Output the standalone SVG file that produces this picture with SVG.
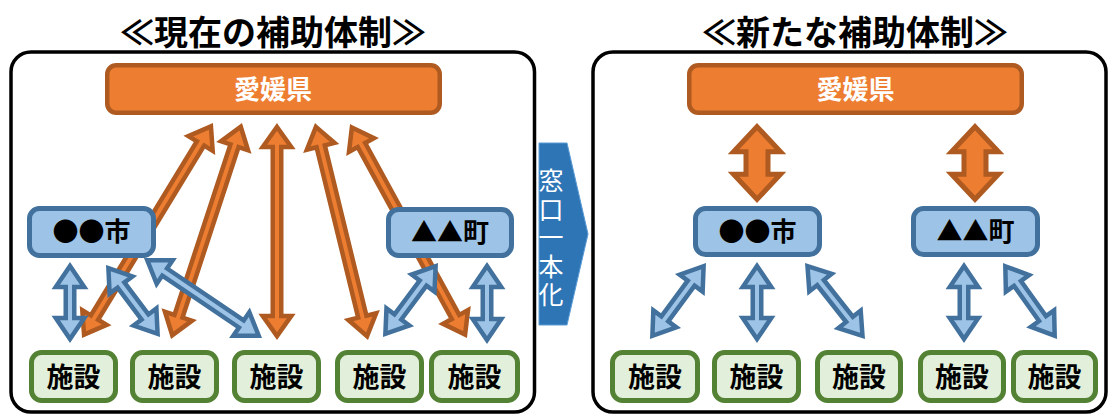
<svg xmlns="http://www.w3.org/2000/svg" width="1110" height="415" viewBox="0 0 1110 415">
<style>
text{font-family:"Noto Sans CJK JP","Noto Sans",sans-serif;text-anchor:middle}
.title{font-size:34px;font-weight:bold;fill:#000}
.frame{fill:#fff;stroke:#000;stroke-width:3.5}
.pref rect{fill:#ED7D31;stroke:#AE5A21;stroke-width:4.5}
.pref text{fill:#fff;font-size:26px;font-weight:bold}
.muni rect{fill:#9DC3E6;stroke:#41719C;stroke-width:5}
.muni text{fill:#000;font-size:26px;font-weight:bold}
.fac rect{fill:#E2EFDA;stroke:#548235;stroke-width:5}
.fac text{fill:#000;font-size:27px;font-weight:bold}
.oa{fill:#ED7D31;stroke:#AE5A21;stroke-width:4.5}
.ba{fill:#9DC3E6;stroke:#41719C;stroke-width:4.5}
.ob{fill:#ED7D31;stroke:#AE5A21;stroke-width:5}
.chev{fill:#2E75B6;stroke:#5B9BD5;stroke-width:1}
.chevt{fill:#fff;font-size:25px;text-anchor:start;writing-mode:vertical-rl;letter-spacing:3.5px}
</style>
<defs>
<polygon id="bigArrow" points="0,-36.3 23.5,-11.3 11,-11.3 11,11.3 23.5,11.3 0,36.3 -23.5,11.3 -11,11.3 -11,-11.3 -23.5,-11.3"/>
</defs>

<text class="title" x="273" y="45">≪現在の補助体制≫</text>
<text class="title" x="855" y="45">≪新たな補助体制≫</text>

<rect class="frame" x="11" y="52" width="523.5" height="360" rx="20"/>
<rect class="frame" x="593" y="52" width="513" height="360" rx="20"/>

<g id="madoguchi">
<polygon class="chev" points="539,143 567,143 588,234 567,325 539,325"/>
<text class="chevt" x="551" y="168">窓口一本化</text>
</g>

<g id="connectors">
<polygon class="oa" transform="translate(147.5,230.5) rotate(121.36)" points="-121.9,0 -101.9,-14.25 -101.9,-4.25 101.9,-4.25 101.9,-14.25 121.9,0 101.9,14.25 101.9,4.25 -101.9,4.25 -101.9,14.25"/>
<polygon class="oa" transform="translate(206.5,231) rotate(108.2)" points="-109.7,0 -89.7,-14.25 -89.7,-4.25 89.7,-4.25 89.7,-14.25 109.7,0 89.7,14.25 89.7,4.25 -89.7,4.25 -89.7,14.25"/>
<polygon class="oa" transform="translate(277,231.5) rotate(90)" points="-104.5,0 -84.5,-14.25 -84.5,-4.25 84.5,-4.25 84.5,-14.25 104.5,0 84.5,14.25 84.5,4.25 -84.5,4.25 -84.5,14.25"/>
<polygon class="oa" transform="translate(341.5,231.5) rotate(76.27)" points="-107.7,0 -87.7,-14.25 -87.7,-4.25 87.7,-4.25 87.7,-14.25 107.7,0 87.7,14.25 87.7,4.25 -87.7,4.25 -87.7,14.25"/>
<polygon class="oa" transform="translate(408.5,231) rotate(61.33)" points="-118,0 -98,-14.25 -98,-4.25 98,-4.25 98,-14.25 118,0 98,14.25 98,4.25 -98,4.25 -98,14.25"/>

<polygon class="ba" transform="translate(70,302.5) rotate(90)" points="-36.5,0 -15.5,-14.25 -15.5,-4.25 15.5,-4.25 15.5,-14.25 36.5,0 15.5,14.25 15.5,4.25 -15.5,4.25 -15.5,14.25"/>
<polygon class="ba" transform="translate(133,301) rotate(53.13)" points="-41,0 -20,-14.25 -20,-4.25 20,-4.25 20,-14.25 41,0 20,14.25 20,4.25 -20,4.25 -20,14.25"/>
<polygon class="ba" transform="translate(203,298) rotate(34.13)" points="-67.3,0 -46.3,-14.25 -46.3,-4.25 46.3,-4.25 46.3,-14.25 67.3,0 46.3,14.25 46.3,4.25 -46.3,4.25 -46.3,14.25"/>
<polygon class="ba" transform="translate(410.5,300) rotate(126.62)" points="-42.1,0 -21.1,-14.25 -21.1,-4.25 21.1,-4.25 21.1,-14.25 42.1,0 21.1,14.25 21.1,4.25 -21.1,4.25 -21.1,14.25"/>
<polygon class="ba" transform="translate(487,303) rotate(90)" points="-37,0 -16,-14.25 -16,-4.25 16,-4.25 16,-14.25 37,0 16,14.25 16,4.25 -16,4.25 -16,14.25"/>

<use href="#bigArrow" class="ob" x="757" y="163"/>
<use href="#bigArrow" class="ob" x="975" y="163"/>

<polygon class="ba" transform="translate(678,301) rotate(126.38)" points="-43.2,0 -22.2,-14.25 -22.2,-4.25 22.2,-4.25 22.2,-14.25 43.2,0 22.2,14.25 22.2,4.25 -22.2,4.25 -22.2,14.25"/>
<polygon class="ba" transform="translate(757,302.5) rotate(90)" points="-36.5,0 -15.5,-14.25 -15.5,-4.25 15.5,-4.25 15.5,-14.25 36.5,0 15.5,14.25 15.5,4.25 -15.5,4.25 -15.5,14.25"/>
<polygon class="ba" transform="translate(835,301) rotate(51.71)" points="-44.4,0 -23.4,-14.25 -23.4,-4.25 23.4,-4.25 23.4,-14.25 44.4,0 23.4,14.25 23.4,4.25 -23.4,4.25 -23.4,14.25"/>
<polygon class="ba" transform="translate(964,302.5) rotate(90)" points="-36.5,0 -15.5,-14.25 -15.5,-4.25 15.5,-4.25 15.5,-14.25 36.5,0 15.5,14.25 15.5,4.25 -15.5,4.25 -15.5,14.25"/>
<polygon class="ba" transform="translate(1030,301) rotate(54.6)" points="-42.6,0 -21.6,-14.25 -21.6,-4.25 21.6,-4.25 21.6,-14.25 42.6,0 21.6,14.25 21.6,4.25 -21.6,4.25 -21.6,14.25"/>
</g>

<g id="pref-left" class="pref"><rect x="107.25" y="65.25" width="332.5" height="47.5" rx="9"/><text x="273" y="98.5">愛媛県</text></g>
<g id="pref-right" class="pref"><rect x="689.25" y="65.25" width="332.5" height="47.5" rx="9"/><text x="855.5" y="98.5">愛媛県</text></g>

<g id="city-left" class="muni"><rect x="29.5" y="208.5" width="124" height="47" rx="10"/><text x="91.5" y="241">●●市</text></g>
<g id="town-left" class="muni"><rect x="388.5" y="209.5" width="123" height="46" rx="10"/><text x="450" y="241.5">▲▲町</text></g>
<g id="city-right" class="muni"><rect x="695.5" y="208.5" width="124" height="46" rx="10"/><text x="757.5" y="240.5">●●市</text></g>
<g id="town-right" class="muni"><rect x="913.5" y="208.5" width="124" height="46" rx="10"/><text x="975.5" y="240.5">▲▲町</text></g>

<g id="fac-l1" class="fac"><rect x="31.5" y="352.5" width="84" height="48" rx="10"/><text x="73.5" y="386.5">施設</text></g>
<g id="fac-l2" class="fac"><rect x="132.5" y="352.5" width="84" height="48" rx="10"/><text x="174.5" y="386.5">施設</text></g>
<g id="fac-l3" class="fac"><rect x="234.5" y="352.5" width="84" height="48" rx="10"/><text x="276.5" y="386.5">施設</text></g>
<g id="fac-l4" class="fac"><rect x="337.5" y="352.5" width="84" height="48" rx="10"/><text x="379.5" y="386.5">施設</text></g>
<g id="fac-l5" class="fac"><rect x="431.5" y="352.5" width="86" height="48" rx="10"/><text x="474.5" y="386.5">施設</text></g>

<g id="fac-r1" class="fac"><rect x="612.5" y="352.5" width="85" height="48" rx="10"/><text x="655" y="386.5">施設</text></g>
<g id="fac-r2" class="fac"><rect x="714.5" y="352.5" width="84" height="48" rx="10"/><text x="756.5" y="386.5">施設</text></g>
<g id="fac-r3" class="fac"><rect x="817.5" y="352.5" width="83" height="48" rx="10"/><text x="859" y="386.5">施設</text></g>
<g id="fac-r4" class="fac"><rect x="920.5" y="352.5" width="83" height="48" rx="10"/><text x="962" y="386.5">施設</text></g>
<g id="fac-r5" class="fac"><rect x="1013.5" y="352.5" width="82" height="48" rx="10"/><text x="1054.5" y="386.5">施設</text></g>
</svg>
